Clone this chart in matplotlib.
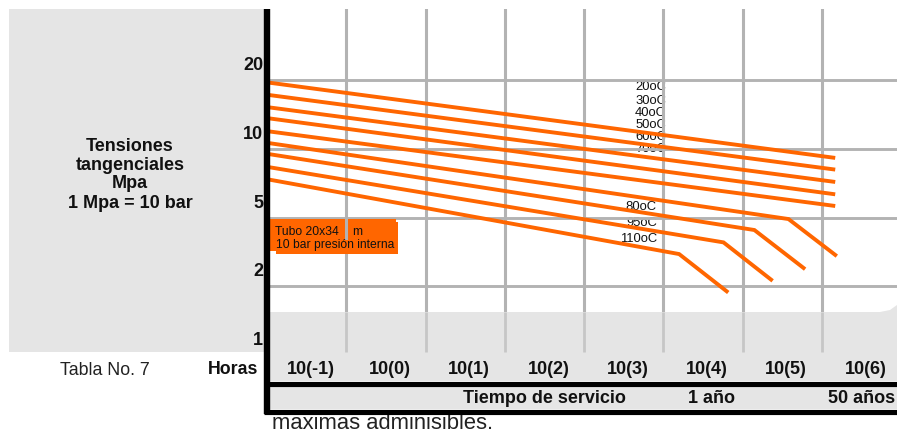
import matplotlib
matplotlib.use("Agg")
import matplotlib.pyplot as plt
import matplotlib.transforms as mtransforms
from matplotlib.patches import Rectangle, Polygon
from matplotlib.lines import Line2D
import numpy as np

W, H, DPI = 897, 431, 100
plt.rcParams['font.family'] = ['Liberation Sans', 'DejaVu Sans']

ORANGE = "#ff6600"
GRID = "#b3b3b3"
PANEL = "#e5e5e5"
INK = "#111111"

# ---- data -----------------------------------------------------------------
# x: log10 of service hours, y: stress level index (0 -> 1 MPa ... 4 -> 20 MPa)
hour_exponents = [-1, 0, 1, 2, 3, 4, 5, 6]
hour_labels = ["10(-1)", "10(0)", "10(1)", "10(2)", "10(3)",
               "10(4)", "10(5)", "10(6)"]
stress_levels = [4, 3, 2, 1, 0]
stress_labels = ["20", "10", "5", "2", "1"]
service_labels = ["Tiempo de servicio", "1 año", "50 años"]

temperatures = ["20oC", "30oC", "40oC", "50oC", "60oC", "70oC",
                "80oC", "95oC", "110oC"]
curve_log_hours = [
    [-1.5, 5.67],
    [-1.5, 5.67],
    [-1.5, 5.67],
    [-1.5, 5.67],
    [-1.5, 5.67],
    [-1.5, 5.08, 5.69],
    [-1.5, 4.65, 5.29],
    [-1.5, 4.26, 4.88],
    [-1.5, 3.70, 4.32],
]
curve_levels = [
    [3.97, 2.87],
    [3.79, 2.70],
    [3.61, 2.52],
    [3.45, 2.34],
    [3.26, 2.17],
    [3.09, 1.98, 1.44],
    [2.93, 1.82, 1.25],
    [2.74, 1.64, 1.08],
    [2.56, 1.47, 0.91],
]

# ---- layout ---------------------------------------------------------------
fig = plt.figure(figsize=(W / DPI, H / DPI), dpi=DPI)
fig.patch.set_facecolor("white")

# pixel coordinates measured from the top-left corner of the image
T = mtransforms.Affine2D().scale(1, -1).translate(0, H)

ax_left, ax_right, ax_top, ax_bottom = 267, 897, 10, 356
px_per_decade = 79.25
px_per_level = 68.67
ax = fig.add_axes([ax_left / W, (H - ax_bottom) / H,
                   (ax_right - ax_left) / W, (ax_bottom - ax_top) / H])
ax.set_xlim(-1.5, -1.5 + (ax_right - ax_left) / px_per_decade)
ax.set_ylim(0, (ax_bottom - ax_top) / px_per_level)
ax.set_axis_off()

# left caption panel
ax.add_patch(Rectangle((9, 10), 255, 343, transform=T, facecolor=PANEL,
                       edgecolor="none", clip_on=False, zorder=0))

# grid
grid_x = np.array(hour_exponents[:-1]) + 0.5
ax.vlines(grid_x, 0, 10, colors=GRID, lw=2.2, zorder=1)
ax.hlines([1, 2, 3, 4], -1.5, 7, colors=GRID, lw=2.1, zorder=1)

# bottom time band (upper right edge curls up slightly)
ax.add_patch(Polygon([(270, 313), (880, 313), (890, 311), (897, 306),
                      (897, 382), (270, 382)], closed=True, transform=T,
                     facecolor=PANEL, edgecolor="none", clip_on=False,
                     zorder=1.5))
ax.add_patch(Rectangle((270, 387), 627, 23, transform=T, facecolor=PANEL,
                       edgecolor="none", clip_on=False, zorder=1.5))
band_tf = mtransforms.blended_transform_factory(ax.transData, T)
ax.vlines(grid_x, 313, 353, colors="#c6c6c6", lw=2.0, transform=band_tf,
          zorder=1.6, clip_on=False)

# frame lines
ax.add_line(Line2D([266.75, 266.75], [10, 415], transform=T, color="black",
                   lw=4.6, solid_capstyle="butt", clip_on=False, zorder=5))
for yy in (384.5, 412.5):
    ax.add_line(Line2D([264, 897], [yy, yy], transform=T, color="black",
                       lw=3.7, solid_capstyle="butt", clip_on=False, zorder=5))

# stress curves
for xs, ys in zip(curve_log_hours, curve_levels):
    ax.plot(xs, ys, color=ORANGE, lw=2.8, solid_capstyle="butt",
            solid_joinstyle="miter", zorder=3)

# temperature labels
label_x = [3.535] * 6 + [3.42] * 3
label_y = [3.921, 3.717, 3.543, 3.364, 3.185, 3.010, 2.174, 1.932, 1.699]
clip_rect = Rectangle((0, 0), 664, H, transform=T)
for name, lx, ly in zip(temperatures, label_x, label_y):
    t = ax.text(lx, ly, name, ha="right", va="center", fontsize=9.4,
                color=INK, zorder=0.8)
    t.set_clip_path(clip_rect)

# pipe note box
ax.add_patch(Rectangle((269, 220), 127, 32, transform=T, facecolor=ORANGE,
                       edgecolor="none", clip_on=False, zorder=2))
ax.add_patch(Rectangle((276, 223), 122, 32, transform=T, facecolor=ORANGE,
                       edgecolor="none", clip_on=False, zorder=2))
ax.add_line(Line2D([346, 346], [220, 239], transform=T, color=GRID, lw=2.2,
                   clip_on=False, zorder=2.1))
ax.text(275, 232.5, "Tubo 20x34", transform=T, ha="left", va="center",
        fontsize=8.7, color=INK, zorder=2.2)
ax.text(352, 232.5, "m", transform=T, ha="left", va="center",
        fontsize=8.7, color=INK, zorder=2.2)
ax.text(276, 245.5, "10 bar presión interna", transform=T, ha="left",
        va="center", fontsize=8.7, color=INK, zorder=2.2)

# stress tick labels
ytick_tf = mtransforms.blended_transform_factory(
    T, ax.transData + mtransforms.Affine2D().translate(0, 15.5))
for lvl, lab in zip(stress_levels, stress_labels):
    ax.text(263, lvl, lab, transform=ytick_tf, ha="right", va="center",
            fontsize=13, fontweight="bold", color=INK, clip_on=False)

# hour tick labels
xtick_tf = mtransforms.blended_transform_factory(
    ax.transData + mtransforms.Affine2D().translate(4, 0), T)
for e, lab in zip(hour_exponents, hour_labels):
    ax.text(e, 369.5, lab, transform=xtick_tf, ha="center", va="center",
            fontsize=13, fontweight="bold", color=INK, clip_on=False,
            zorder=6)

# service time row
service_x = [544, 711.5, 862]
for sx, lab in zip(service_x, service_labels):
    ax.text(sx, 398.5, lab, transform=T, ha="center", va="center",
            fontsize=13, fontweight="bold", color=INK, clip_on=False,
            zorder=6)

# captions
for yy, line in zip([147, 165.5, 184, 203.5],
                    ["Tensiones", "tangenciales", "Mpa", "1 Mpa = 10 bar"]):
    ax.text(130, yy, line, transform=T, ha="center", va="center",
            fontsize=13, fontweight="bold", color=INK, clip_on=False)
ax.text(258, 369.5, "Horas", transform=T, ha="right", va="center",
        fontsize=12.8, fontweight="bold", color=INK, clip_on=False)
ax.text(105, 371, "Tabla No. 7", transform=T, ha="center", va="center",
        fontsize=12.8, color="#222222", clip_on=False)
ax.text(272, 429.5, "maximas adminisibles.", transform=T, ha="left",
        va="baseline", fontsize=15.8, color="#222222", clip_on=False)

fig.savefig("out.png", dpi=DPI)
